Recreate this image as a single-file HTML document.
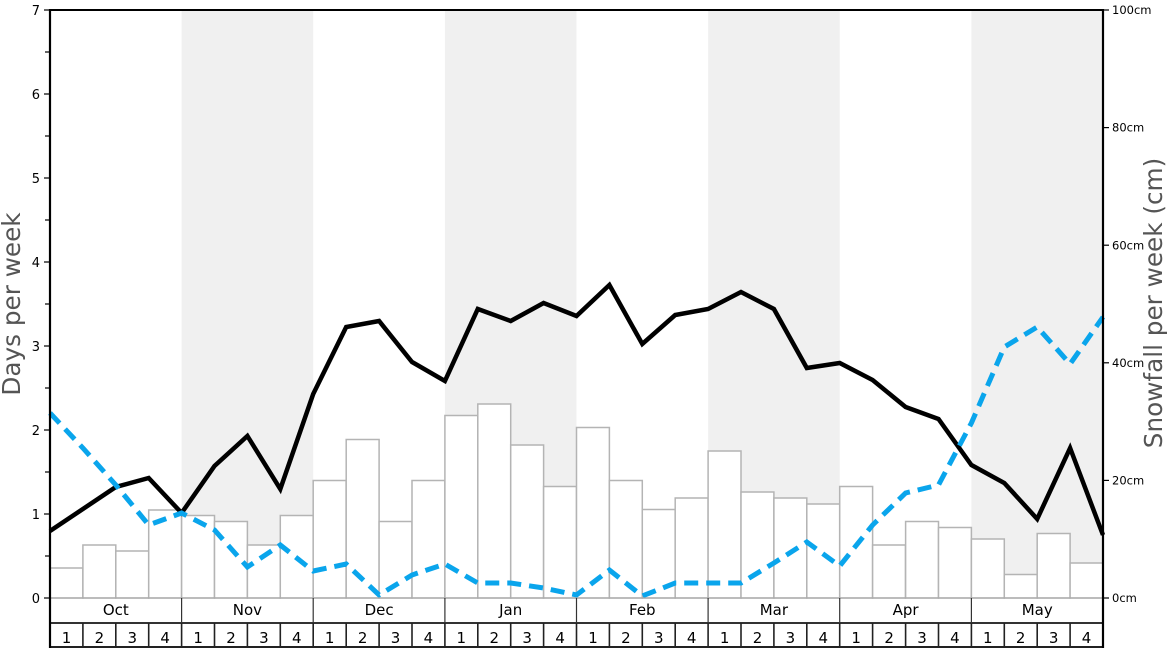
<!DOCTYPE html>
<html>
<head>
<meta charset="utf-8">
<style>
html,body{margin:0;padding:0;background:#fff;}
svg{display:block;font-family:"DejaVu Sans","Liberation Sans",sans-serif;}
</style>
</head>
<body>
<svg width="1168" height="648" viewBox="0 0 1168 648" xmlns="http://www.w3.org/2000/svg">
<rect x="0" y="0" width="1168" height="648" fill="#fff"/>
<!-- shaded month bands -->
<g fill="#f0f0f0">
<rect x="181.6" y="10" width="131.6" height="588"/>
<rect x="444.9" y="10" width="131.6" height="588"/>
<rect x="708.1" y="10" width="131.6" height="588"/>
<rect x="971.4" y="10" width="131.6" height="588"/>
</g>
<!-- bars -->
<g fill="#fff" stroke="#b4b4b4" stroke-width="1.5">
<rect x="50" y="568" width="32.9" height="30"/>
<rect x="82.9" y="545" width="32.9" height="53"/>
<rect x="115.8" y="551" width="32.9" height="47"/>
<rect x="148.7" y="510" width="32.9" height="88"/>
<rect x="181.6" y="515.5" width="32.9" height="82.5"/>
<rect x="214.5" y="521.5" width="32.9" height="76.5"/>
<rect x="247.4" y="545" width="32.9" height="53"/>
<rect x="280.3" y="515.5" width="32.9" height="82.5"/>
<rect x="313.2" y="480.5" width="32.9" height="117.5"/>
<rect x="346.2" y="439.5" width="32.9" height="158.5"/>
<rect x="379.1" y="521.5" width="32.9" height="76.5"/>
<rect x="412" y="480.5" width="32.9" height="117.5"/>
<rect x="444.9" y="415.5" width="32.9" height="182.5"/>
<rect x="477.8" y="404" width="32.9" height="194"/>
<rect x="510.7" y="445" width="32.9" height="153"/>
<rect x="543.6" y="486.5" width="32.9" height="111.5"/>
<rect x="576.5" y="427.5" width="32.9" height="170.5"/>
<rect x="609.4" y="480.5" width="32.9" height="117.5"/>
<rect x="642.3" y="509.5" width="32.9" height="88.5"/>
<rect x="675.2" y="498" width="32.9" height="100"/>
<rect x="708.1" y="451" width="32.9" height="147"/>
<rect x="741" y="492" width="32.9" height="106"/>
<rect x="773.9" y="498" width="32.9" height="100"/>
<rect x="806.8" y="504" width="32.9" height="94"/>
<rect x="839.7" y="486.5" width="32.9" height="111.5"/>
<rect x="872.6" y="545" width="32.9" height="53"/>
<rect x="905.6" y="521.5" width="32.9" height="76.5"/>
<rect x="938.5" y="527.5" width="32.9" height="70.5"/>
<rect x="971.4" y="539" width="32.9" height="59"/>
<rect x="1004.3" y="574.5" width="32.9" height="23.5"/>
<rect x="1037.2" y="533.5" width="32.9" height="64.5"/>
<rect x="1070.1" y="563" width="32.9" height="35"/>
</g>
<!-- black line -->
<polyline fill="none" stroke="#000" stroke-width="4.5" stroke-linejoin="miter" stroke-miterlimit="4"
points="50,531 82.9,509 115.8,487 148.7,478 181.6,513 214.5,466 247.4,436 280.3,489 313.2,394 346.2,327 379.1,321 412,362 444.9,381 477.8,309 510.7,321 543.6,303 576.5,316 609.4,285 642.3,344 675.2,315 708.1,309 741,292 773.9,309 806.8,368 839.7,363 872.6,380 905.6,407 938.5,419 971.4,465 1004.3,483 1037.2,519 1070.1,448 1103,535"/>
<!-- blue dashed line -->
<polyline fill="none" stroke="#0aa5ec" stroke-width="5" stroke-dasharray="14,8"
points="50,413 82.9,448 115.8,485 148.7,525 181.6,513 214.5,530 247.4,567 280.3,545 313.2,571 346.2,564 379.1,595 412,575 444.9,564 477.8,583 510.7,583 543.6,588 576.5,595 609.4,570 642.3,596 675.2,583 708.1,583 741,583 773.9,563 806.8,542 839.7,566 872.6,525 905.6,493 938.5,485 971.4,423 1004.3,347 1037.2,327 1070.1,364 1103,317"/>
<!-- x-axis baseline -->
<line x1="50" y1="598" x2="1103" y2="598" stroke="#aaa" stroke-width="1.2"/>
<!-- month separators -->
<g stroke="#333" stroke-width="1.2">
<line x1="181.6" y1="598" x2="181.6" y2="623"/>
<line x1="313.2" y1="598" x2="313.2" y2="623"/>
<line x1="444.9" y1="598" x2="444.9" y2="623"/>
<line x1="576.5" y1="598" x2="576.5" y2="623"/>
<line x1="708.1" y1="598" x2="708.1" y2="623"/>
<line x1="839.7" y1="598" x2="839.7" y2="623"/>
<line x1="971.4" y1="598" x2="971.4" y2="623"/>
</g>
<line x1="50" y1="623" x2="1103" y2="623" stroke="#333" stroke-width="2"/>
<line x1="50" y1="647" x2="1103" y2="647" stroke="#222" stroke-width="2"/>
<!-- week separators -->
<g stroke="#222" stroke-width="1.6">
<line x1="82.9" y1="623" x2="82.9" y2="648"/><line x1="115.8" y1="623" x2="115.8" y2="648"/><line x1="148.7" y1="623" x2="148.7" y2="648"/><line x1="181.6" y1="623" x2="181.6" y2="648"/>
<line x1="214.5" y1="623" x2="214.5" y2="648"/><line x1="247.4" y1="623" x2="247.4" y2="648"/><line x1="280.3" y1="623" x2="280.3" y2="648"/><line x1="313.2" y1="623" x2="313.2" y2="648"/>
<line x1="346.2" y1="623" x2="346.2" y2="648"/><line x1="379.1" y1="623" x2="379.1" y2="648"/><line x1="412" y1="623" x2="412" y2="648"/><line x1="444.9" y1="623" x2="444.9" y2="648"/>
<line x1="477.8" y1="623" x2="477.8" y2="648"/><line x1="510.7" y1="623" x2="510.7" y2="648"/><line x1="543.6" y1="623" x2="543.6" y2="648"/><line x1="576.5" y1="623" x2="576.5" y2="648"/>
<line x1="609.4" y1="623" x2="609.4" y2="648"/><line x1="642.3" y1="623" x2="642.3" y2="648"/><line x1="675.2" y1="623" x2="675.2" y2="648"/><line x1="708.1" y1="623" x2="708.1" y2="648"/>
<line x1="741" y1="623" x2="741" y2="648"/><line x1="773.9" y1="623" x2="773.9" y2="648"/><line x1="806.8" y1="623" x2="806.8" y2="648"/><line x1="839.7" y1="623" x2="839.7" y2="648"/>
<line x1="872.6" y1="623" x2="872.6" y2="648"/><line x1="905.6" y1="623" x2="905.6" y2="648"/><line x1="938.5" y1="623" x2="938.5" y2="648"/><line x1="971.4" y1="623" x2="971.4" y2="648"/>
<line x1="1004.3" y1="623" x2="1004.3" y2="648"/><line x1="1037.2" y1="623" x2="1037.2" y2="648"/><line x1="1070.1" y1="623" x2="1070.1" y2="648"/>
</g>
<!-- frame -->
<line x1="49" y1="10" x2="1104" y2="10" stroke="#000" stroke-width="2"/>
<line x1="50" y1="9" x2="50" y2="648" stroke="#000" stroke-width="2.2"/>
<line x1="1103" y1="9" x2="1103" y2="648" stroke="#000" stroke-width="2.2"/>
<!-- left ticks -->
<g stroke="#000" stroke-width="1.2">
<line x1="44" y1="598" x2="50" y2="598"/><line x1="45" y1="556" x2="50" y2="556"/>
<line x1="44" y1="514" x2="50" y2="514"/><line x1="45" y1="472" x2="50" y2="472"/>
<line x1="44" y1="430" x2="50" y2="430"/><line x1="45" y1="388" x2="50" y2="388"/>
<line x1="44" y1="346" x2="50" y2="346"/><line x1="45" y1="304" x2="50" y2="304"/>
<line x1="44" y1="262" x2="50" y2="262"/><line x1="45" y1="220" x2="50" y2="220"/>
<line x1="44" y1="178" x2="50" y2="178"/><line x1="45" y1="136" x2="50" y2="136"/>
<line x1="44" y1="94" x2="50" y2="94"/><line x1="45" y1="52" x2="50" y2="52"/>
<line x1="44" y1="10" x2="50" y2="10"/>
</g>
<g font-size="13" fill="#000" text-anchor="end">
<text x="40" y="603">0</text><text x="40" y="519">1</text><text x="40" y="435">2</text><text x="40" y="351">3</text>
<text x="40" y="267">4</text><text x="40" y="183">5</text><text x="40" y="99">6</text><text x="40" y="15">7</text>
</g>
<!-- right ticks -->
<g stroke="#000" stroke-width="1.2">
<line x1="1103" y1="598" x2="1109" y2="598"/><line x1="1103" y1="480.4" x2="1109" y2="480.4"/>
<line x1="1103" y1="362.8" x2="1109" y2="362.8"/><line x1="1103" y1="245.2" x2="1109" y2="245.2"/>
<line x1="1103" y1="127.6" x2="1109" y2="127.6"/><line x1="1103" y1="10" x2="1109" y2="10"/>
</g>
<g font-size="11.5" fill="#000">
<text x="1112" y="602">0cm</text><text x="1112" y="484.5">20cm</text><text x="1112" y="367">40cm</text>
<text x="1112" y="249.5">60cm</text><text x="1112" y="131.5">80cm</text><text x="1112" y="14">100cm</text>
</g>
<!-- axis titles -->
<text transform="translate(20,304) rotate(-90)" text-anchor="middle" font-size="24.7" fill="#555">Days per week</text>
<text transform="translate(1162,303) rotate(-90)" text-anchor="middle" font-size="24.7" fill="#555">Snowfall per week (cm)</text>
<!-- month labels -->
<g font-size="15" fill="#000" text-anchor="middle">
<text x="115.8" y="615">Oct</text><text x="247.4" y="615">Nov</text><text x="379.1" y="615">Dec</text><text x="510.7" y="615">Jan</text>
<text x="642.3" y="615">Feb</text><text x="773.9" y="615">Mar</text><text x="905.6" y="615">Apr</text><text x="1037.2" y="615">May</text>
</g>
<!-- week labels -->
<g font-size="15" fill="#000" text-anchor="middle">
<text x="66.5" y="643">1</text><text x="99.4" y="643">2</text><text x="132.3" y="643">3</text><text x="165.2" y="643">4</text>
<text x="198.1" y="643">1</text><text x="231" y="643">2</text><text x="263.9" y="643">3</text><text x="296.8" y="643">4</text>
<text x="329.7" y="643">1</text><text x="362.6" y="643">2</text><text x="395.5" y="643">3</text><text x="428.4" y="643">4</text>
<text x="461.3" y="643">1</text><text x="494.3" y="643">2</text><text x="527.2" y="643">3</text><text x="560.1" y="643">4</text>
<text x="593" y="643">1</text><text x="625.9" y="643">2</text><text x="658.8" y="643">3</text><text x="691.7" y="643">4</text>
<text x="724.6" y="643">1</text><text x="757.5" y="643">2</text><text x="790.4" y="643">3</text><text x="823.3" y="643">4</text>
<text x="856.2" y="643">1</text><text x="889.1" y="643">2</text><text x="922" y="643">3</text><text x="954.9" y="643">4</text>
<text x="987.8" y="643">1</text><text x="1020.7" y="643">2</text><text x="1053.6" y="643">3</text><text x="1086.5" y="643">4</text>
</g>
</svg>
</body>
</html>
